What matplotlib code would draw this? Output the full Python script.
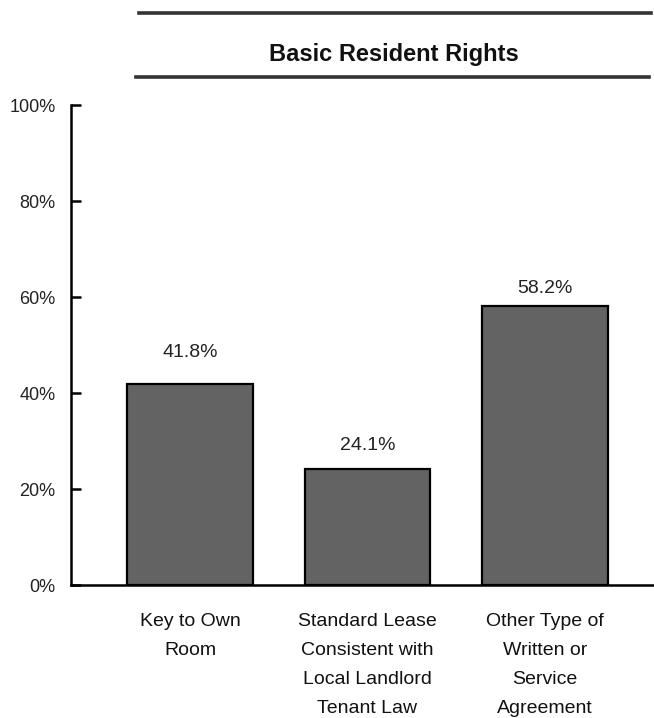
import matplotlib
matplotlib.use("Agg")
import matplotlib.pyplot as plt
from matplotlib import font_manager
from matplotlib.lines import Line2D

names = {f.name for f in font_manager.fontManager.ttflist}
fam = "Liberation Sans Narrow" if "Liberation Sans Narrow" in names else "Liberation Sans"
plt.rcParams['font.family'] = [fam, 'DejaVu Sans']

title = "Basic Resident Rights"
categories = ["Key to Own\nRoom",
              "Standard Lease\nConsistent with\nLocal Landlord\nTenant Law",
              "Other Type of\nWritten or\nService\nAgreement"]
values = [41.8, 24.1, 58.2]
value_labels = ["41.8%", "24.1%", "58.2%"]
yticks = [0, 20, 40, 60, 80, 100]
ytick_labels = ["0%", "20%", "40%", "60%", "80%", "100%"]

label_gap_px = [23, 15, 9]

W, H = 654, 718
fig = plt.figure(figsize=(W/100, H/100), dpi=100)
ax = fig.add_axes([71/W, 1-585/H, (653-71)/W, (585-105)/H])

x = list(range(len(values)))
ax.bar(x, values, width=0.705, color="#636363", edgecolor="black", linewidth=1.6, zorder=2)
ax.set_xlim(-0.67, 2.608)
ax.set_ylim(0, 100)
ax.set_yticks(yticks)
ax.set_yticklabels(ytick_labels, fontsize=13, color="#222222")
ax.tick_params(axis='y', direction='in', length=7, width=1.8, pad=11)
ax.set_xticks([])
for s in ["top", "right"]:
    ax.spines[s].set_visible(False)
for s in ["left", "bottom"]:
    ax.spines[s].set_linewidth(1.8)

for xi, v, lab, g in zip(x, values, value_labels, label_gap_px):
    ax.annotate(lab, (xi, v), xytext=(0, g*0.72), textcoords="offset points",
                ha="center", va="bottom", fontsize=14, color="#222222")

for xi, c in zip(x, categories):
    ax.annotate(c, (xi, 0), xytext=(0, -28*0.72), textcoords="offset points",
                ha="center", va="top", fontsize=14, color="#111111", linespacing=1.92,
                annotation_clip=False)

fig.text((137+650)/2/W, 1-55/H, title, ha="center", va="center",
         fontsize=17, fontweight="bold", color="#111111")
fig.add_artist(Line2D([139/W, 651/W], [1-13/H, 1-13/H], color="#333333", linewidth=2.6))
fig.add_artist(Line2D([136/W, 649/W], [1-77/H, 1-77/H], color="#333333", linewidth=2.6))

fig.savefig("out.png", dpi=100)
